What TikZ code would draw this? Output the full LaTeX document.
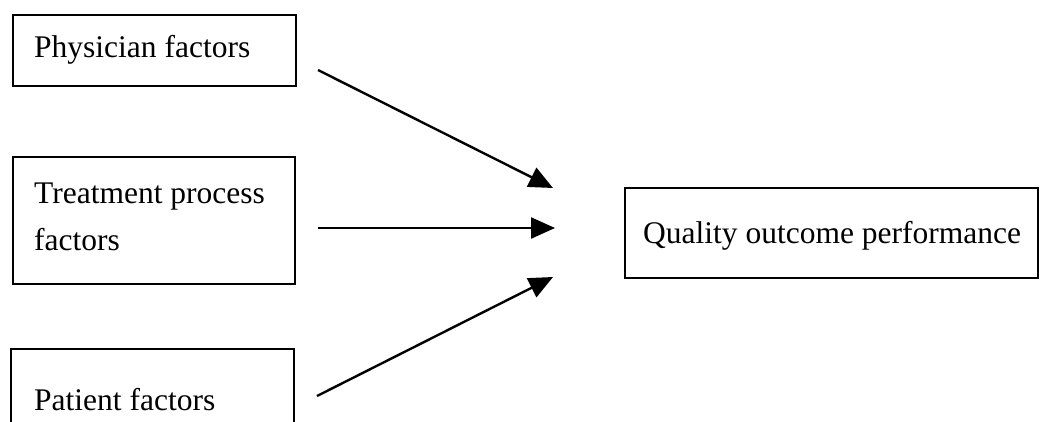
\documentclass[tikz,border=0pt]{standalone}
\usepackage{fontspec}
\setmainfont{Liberation Serif}
\usetikzlibrary{arrows.meta}
\begin{document}
\begin{tikzpicture}[x=1pt,y=-1pt,
  box/.style={draw,line width=2.4pt,inner sep=0pt,anchor=north west},
  lbl/.style={anchor=base west,inner sep=0pt,font=\fontsize{31.5}{47}\selectfont},
  conn/.style={line width=2.4pt,-{Triangle[length=24pt,width=21pt]}}]
\useasboundingbox (0,0) rectangle (1040,421);
\clip (0,0) rectangle (1040,421);
\node[box,minimum width=283pt,minimum height=71pt] (b1) at (12,14) {};
\node[box,minimum width=282pt,minimum height=127pt] (b2) at (12,156) {};
\node[box,minimum width=283pt,minimum height=120pt] (b3) at (10,348) {};
\node[box,minimum width=413pt,minimum height=90pt] (b4) at (624,187) {};
\node[lbl] (t1) at (34,57) {Physician factors};
\node[lbl] (t2a) at (34,203) {Treatment process};
\node[lbl] (t2b) at (34,250) {factors};
\node[lbl] (t3) at (34,410) {Patient factors};
\node[lbl] (t4) at (643,243) {Quality outcome performance};
\coordinate (s1) at (318,70);
\coordinate (e1) at (553,188);
\coordinate (s2) at (318,228);
\coordinate (e2) at (555,228);
\coordinate (s3) at (317,396);
\coordinate (e3) at (553,277);
\draw[conn] (s1) -- (e1);
\draw[conn] (s2) -- (e2);
\draw[conn] (s3) -- (e3);
\end{tikzpicture}
\end{document}
